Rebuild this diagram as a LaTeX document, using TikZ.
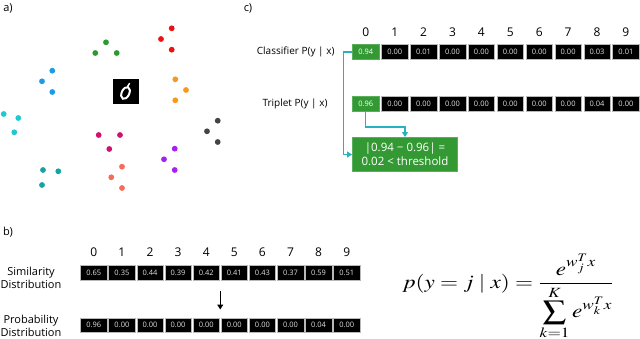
\documentclass[tikz,border=0pt]{standalone}
\usepackage{mathptmx}
\usepackage{fontspec}
\usepackage{graphicx}
\setmainfont{Open Sans}
\usetikzlibrary{arrows.meta,calc}

\definecolor{boxgreen}{HTML}{339933}
\definecolor{linkcyan}{HTML}{26B3BF}
\definecolor{dred}{HTML}{F01010}
\definecolor{dgreen}{HTML}{2E9A2E}
\definecolor{dblue}{HTML}{1C9CE6}
\definecolor{dorange}{HTML}{F59A1A}
\definecolor{dcyan}{HTML}{1EC8D4}
\definecolor{dgray}{HTML}{444444}
\definecolor{dmagenta}{HTML}{D0116E}
\definecolor{dpurple}{HTML}{A322F2}
\definecolor{dteal}{HTML}{15A3A3}
\definecolor{dsalmon}{HTML}{F96A5A}

\tikzset{
    cell/.style={draw=gray!55, line width=0.5pt, fill=black, text=white!88!black,
        minimum width=26.5pt, minimum height=14.5pt, inner sep=0pt,
        font=\fontsize{7.5}{8}\selectfont},
    hitcell/.style={cell, fill=boxgreen, draw=boxgreen!80!white, text=white},
    digit/.style={font=\fontsize{12}{13}\selectfont},
    rowlabel/.style={font=\fontsize{10}{12}\selectfont, align=center},
    panel/.style={font=\fontsize{11}{12}\selectfont},
    link/.style={draw=linkcyan, line width=1.1pt, -{Triangle[length=5pt,width=6pt]}}
}

\begin{document}
\begin{tikzpicture}[x=1pt,y=-1pt]
    \useasboundingbox (0,0) rectangle (640,339);

    % a) embedding clusters
    \node[panel] (pa) at (8,8) {a)};
    \foreach \c/\x/\y in {dred/171.7/28.3, dred/161/39, dred/171.7/49.7,
            dgreen/106/42.3, dgreen/95.3/53, dgreen/116.7/53,
            dblue/52.3/70.7, dblue/42/81.3, dblue/52.3/92,
            dorange/175.3/79.3, dorange/186/90, dorange/175.3/100.3,
            dcyan/3.7/114, dcyan/18.3/118, dcyan/14.3/132.3,
            dgray/217.7/120.7, dgray/207/131.3, dgray/217.7/142,
            dmagenta/98.7/135, dmagenta/120/135, dmagenta/109.3/149,
            dpurple/174.7/148.7, dpurple/164/159.3, dpurple/174.7/170,
            dteal/43/170, dteal/58.3/171.3, dteal/42/185,
            dsalmon/122/166.7, dsalmon/111.3/177.3, dsalmon/122/188}
        \fill[\c] (\x,\y) circle (2.9);
    \node[fill=black, minimum size=25.5pt, inner sep=0pt] (img) at (126,91.5) {};
    \draw[white, line width=2pt, rotate around={-25:(125.5,93)}] (125.5,93) ellipse (3.8pt and 6.3pt);
    \draw[white, line width=1.5pt, line cap=round] (127.5,86.5) -- (129.5,83.5);

    % c) classifier vs triplet
    \node[panel] (pc) at (248,8) {c)};
    \foreach \i in {0,...,9}
        \node[digit] at (365.8+28.9*\i,32) {\i};
    \node[hitcell] (c0) at (365.8,52) {0.94};
    \foreach \v [count=\i] in {0.00,0.01,0.00,0.00,0.00,0.00,0.00,0.03,0.01}
        \node[cell] (c\i) at (365.8+28.9*\i,52) {\v};
    \node[hitcell] (t0) at (365.8,104) {0.96};
    \foreach \v [count=\i] in {0.00,0.00,0.00,0.00,0.00,0.00,0.00,0.04,0.00}
        \node[cell] (t\i) at (365.8+28.9*\i,104) {\v};
    \node[rowlabel, anchor=east] (clab) at (338,52) {Classifier P(y | x)};
    \node[rowlabel, anchor=east] (tlab) at (331,104) {Triplet P(y | x)};
    \node[hitcell, minimum width=105.4pt, minimum height=34.4pt, align=center,
        font=\fontsize{11.5}{14}\selectfont] (thr) at (405,154.5)
        {|0.94 − 0.96| =\\0.02 < threshold};
    \draw[link] (c0.west) -- ++(-9,0) |- (thr.west);
    \draw[link] (t0.south) -- ++(0,15.5) -| (thr.north);

    % b) similarity to probability
    \node[panel] (pb) at (8,232) {b)};
    \foreach \i in {0,...,9}
        \node[digit] at (93.8+28.1*\i,252) {\i};
    \foreach \v [count=\i from 0] in {0.65,0.35,0.44,0.39,0.42,0.41,0.43,0.37,0.59,0.51}
        \node[cell] (s\i) at (93.8+28.1*\i,272.5) {\v};
    \foreach \v [count=\i from 0] in {0.96,0.00,0.00,0.00,0.00,0.00,0.00,0.00,0.04,0.00}
        \node[cell] (p\i) at (93.8+28.1*\i,325) {\v};
    \node[rowlabel, font=\fontsize{11}{12.5}\selectfont] (slab) at (31,278) {Similarity\\Distribution};
    \node[rowlabel, font=\fontsize{11}{12.5}\selectfont] (plab) at (31,326) {Probability\\Distribution};
    \coordinate (atop) at ($(s4.south)!0.5!(s5.south)+(0,11)$);
    \coordinate (abot) at ($(p4.north)!0.5!(p5.north)+(0,-8)$);
    \draw[line width=1pt, -{Triangle[length=5pt,width=6pt]}] (atop) -- (abot);

    % softmax
    \node[font=\fontsize{19}{22}\selectfont] (eq) at (508,297)
        {\scalebox{1.22}[1]{$\displaystyle p(y=j\mid x)=\frac{e^{w_j^Tx}}{\displaystyle\sum_{k=1}^{K}e^{w_k^Tx}}$}};
\end{tikzpicture}
\end{document}
